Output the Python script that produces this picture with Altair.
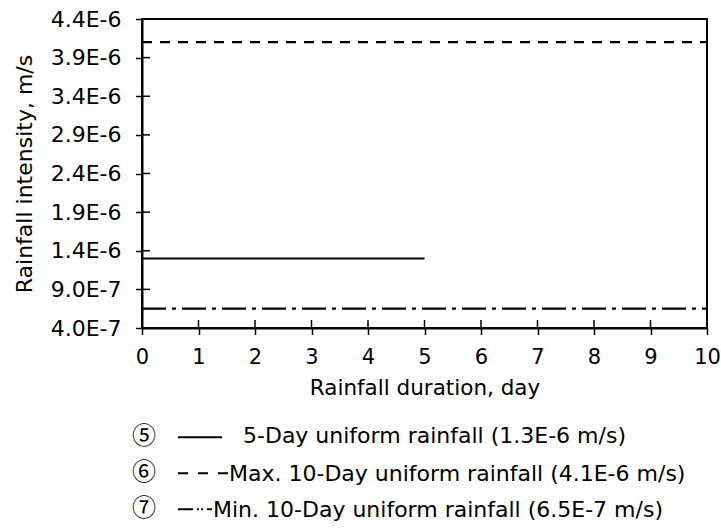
import altair as alt
import pandas as pd

# ---- data ----
x_ticks = [0, 1, 2, 3, 4, 5, 6, 7, 8, 9, 10]
y_ticks = [4.0e-7, 9.0e-7, 1.4e-6, 1.9e-6, 2.4e-6, 2.9e-6, 3.4e-6, 3.9e-6, 4.4e-6]
series = ["5-Day uniform rainfall", "Max. 10-Day uniform rainfall", "Min. 10-Day uniform rainfall"]
x_start = [0, 0, 0]
x_end = [5, 10, 10]
intensity = [1.3e-6, 4.1e-6, 6.5e-7]
legend_marks = ["⑤", "⑥", "⑦"]
legend_labels = [
    "5-Day uniform rainfall (1.3E-6 m/s)",
    "Max. 10-Day uniform rainfall (4.1E-6 m/s)",
    "Min. 10-Day uniform rainfall (6.5E-7 m/s)",
]

# ---- layout / style ----
W, H = 565, 309
FONT = "DejaVu Sans"
dash_styles = [[1, 0], [10, 8], [24, 6, 4, 6]]
legend_dash = [[1, 0], [10, 10], [15, 4, 2, 2, 2, 4, 5, 100]]

df = pd.DataFrame({"series": series, "x0": x_start, "x1": x_end, "y": intensity})

xscale = alt.Scale(domain=[0, 10], nice=False, zero=False)
yscale = alt.Scale(domain=[4.0e-7, 4.4e-6], nice=False, zero=False)

x_axis = alt.Axis(
    values=x_ticks, format="d", title="Rainfall duration, day", grid=False,
    labelFlush=False, labelOverlap=False, labelFontSize=21, labelPadding=11.5,
    tickSize=6.5, tickWidth=1.5, tickColor="black", domainColor="black", domainWidth=2,
    labelColor="black", titleColor="black", titleFontSize=21.5, titleFontWeight="normal",
    titleX=W / 2, titleY=66, titleAlign="center", titleBaseline="alphabetic",
)
y_axis = alt.Axis(
    values=y_ticks, labelExpr="replace(format(datum.value, '.1e'), 'e', 'E')",
    title="Rainfall intensity, m/s", grid=False, labelFlush=False, labelOverlap=False,
    labelFontSize=22, labelPadding=14.5, tickSize=6.5, tickWidth=1.5, tickColor="black",
    domainColor="black", domainWidth=2, labelColor="black", titleColor="black",
    titleFontSize=22, titleFontWeight="normal", titleAngle=270,
    titleX=-110.5, titleY=H / 2, titleAlign="center", titleBaseline="alphabetic",
)

layers = []
for i in range(len(series)):
    sub = df[df["series"] == series[i]]
    layers.append(
        alt.Chart(sub).mark_rule(color="black", strokeWidth=2.2, strokeDash=dash_styles[i]).encode(
            x=alt.X("x0:Q", scale=xscale, axis=x_axis),
            x2="x1:Q",
            y=alt.Y("y:Q", scale=yscale, axis=y_axis),
        )
    )

# inner halves of the crossing ticks
xt = pd.DataFrame({"x0": x_ticks})
yt = pd.DataFrame({"y": y_ticks})
layers.append(
    alt.Chart(xt).mark_rule(color="black", strokeWidth=1.5).encode(
        x=alt.X("x0:Q", scale=xscale, axis=x_axis), y=alt.value(H), y2=alt.value(H - 8)
    )
)
layers.append(
    alt.Chart(yt).mark_rule(color="black", strokeWidth=1.5).encode(
        y=alt.Y("y:Q", scale=yscale, axis=y_axis), x=alt.value(0), x2=alt.value(8)
    )
)

# manual legend below the chart
mark_y = [417.5, 454, 490]
line_y = [418.3, 454.3, 490.3]
line_x2 = [80, 86, 70]
text_x = [101, 87, 71]
text_y = [424, 461.5, 498]
one = pd.DataFrame({"a": [0]})
for i in range(3):
    layers.append(
        alt.Chart(one).mark_text(
            font="Noto Sans CJK JP", fontSize=24, align="center", baseline="middle", color="black"
        ).encode(x=alt.value(2), y=alt.value(mark_y[i]), text=alt.value(legend_marks[i]))
    )
    layers.append(
        alt.Chart(one).mark_rule(color="black", strokeWidth=2, strokeDash=legend_dash[i]).encode(
            x=alt.value(36), x2=alt.value(line_x2[i]), y=alt.value(line_y[i])
        )
    )
    layers.append(
        alt.Chart(one).mark_text(
            font=FONT, fontSize=22, align="left", baseline="alphabetic", color="black"
        ).encode(x=alt.value(text_x[i]), y=alt.value(text_y[i]), text=alt.value(legend_labels[i]))
    )

chart = alt.layer(*layers).properties(
    width=W, height=H,
    autosize=alt.AutoSizeParams(type="none"),
    padding={"left": 142, "top": 19, "right": 14, "bottom": 200},
    background="white",
).configure(font=FONT).configure_view(stroke="black", strokeWidth=2)

chart.save("out.html", embed_options={"renderer": "svg", "actions": False})
